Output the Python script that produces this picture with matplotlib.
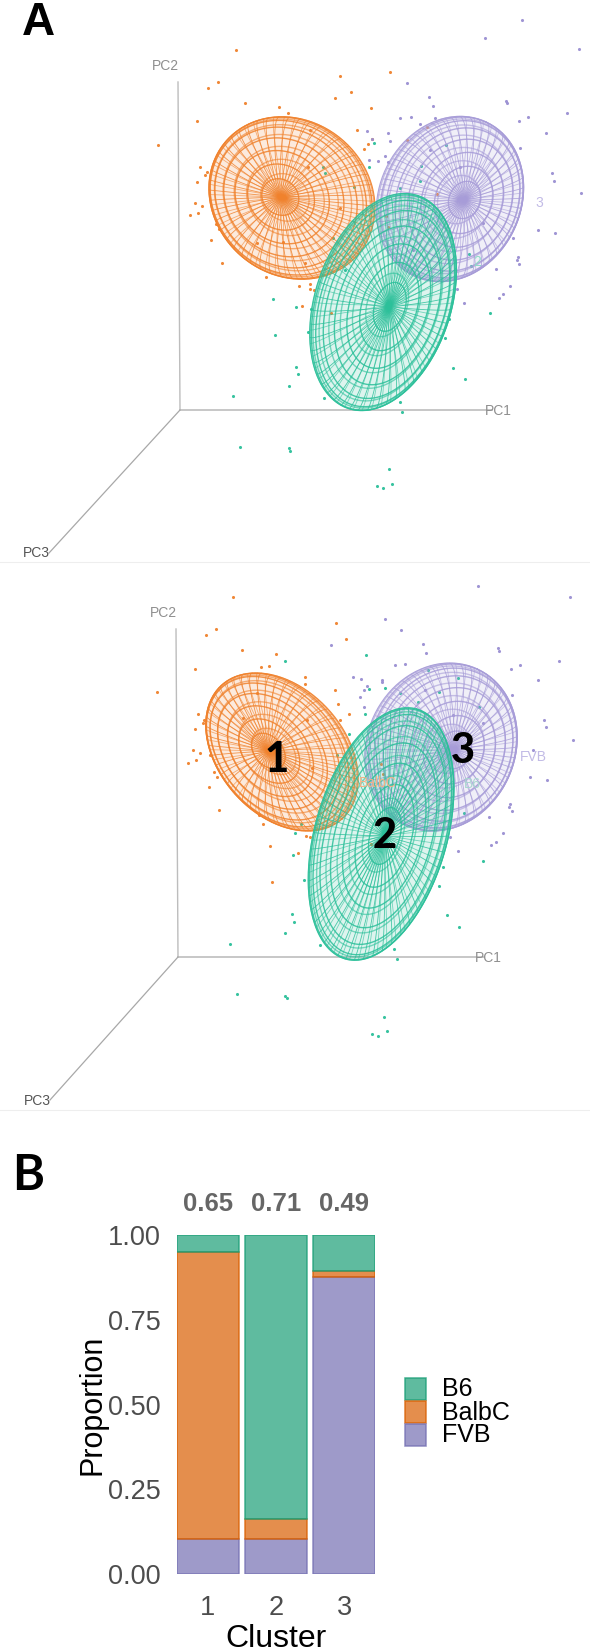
import numpy as np
import matplotlib
matplotlib.use("Agg")
import matplotlib.pyplot as plt
from matplotlib.collections import LineCollection
from matplotlib.patches import Polygon, Rectangle

W, H = 590, 1651
ORANGE = "#F0822D"
GREEN = "#2CC09A"
PURPLE = "#A79CD8"

top_orange = [(318,0),(233,114),(265,96),(345,158),(202,214),(85,286),(630,77),(781,67),(662,126),(615,145),(722,174),(448,170),(475,190),(682,241),(726,268),(715,282),(703,298),(210,350),(230,367),(226,375),(201,395),(194,460),(217,468),(204,490),(181,496),(258,522),(268,537),(243,569),(275,640),(407,681),(507,708),(540,702),(540,716),(553,720),(516,768),(604,790),(767,498),(775,530),(890,230),(830,270),(920,432),(540,240),(535,350),(630,475),(380,580),(460,575),(525,640)]
top_purple = [(1176,-90),(1065,-36),(1347,-3),(831,99),(896,142),(908,169),(1127,152),(1130,160),(1312,190),(1193,202),(1166,214),(1249,250),(811,205),(843,201),(915,203),(870,222),(710,243),(773,250),(725,268),(780,273),(718,331),(745,333),(765,319),(775,335),(1170,295),(1267,369),(1273,392),(1354,430),(1225,540),(1276,549),(1150,565),(1163,622),(1160,630),(1167,642),(1097,657),(1141,707),(1118,733),(1106,743),(981,718),(1003,760),(900,300),(990,350),(1060,520),(850,600)]
top_green = [(578,352),(586,369),(733,278),(718,350),(810,415),(948,285),(873,348),(870,393),(672,410),(430,746),(499,772),(544,778),(435,855),(533,847),(1079,790),(957,808),(946,865),(497,952),(504,973),(476,1008),(308,1039),(583,1043),(969,954),(1006,988),(809,1056),(816,1085),(1018,613),(1022,648),(610,565),(645,660),(330,1191),(477,1194),(480,1203),(777,1257),(741,1308),(759,1314),(786,1302)]

bot_orange = [(310,50),(227,166),(258,147),(337,211),(437,221),(195,266),(394,260),(416,259),(80,337),(526,291),(524,313),(617,129),(649,178),(615,331),(624,373),(656,401),(630,421),(204,402),(222,420),(219,428),(196,447),(188,511),(211,520),(198,541),(175,548),(241,525),(252,575),(261,590),(237,620),(268,690),(386,705),(398,732),(528,768),(540,770),(421,799),(505,820),(425,907),(752,552),(760,582),(722,792),(340,415),(380,340),(530,420),(545,565)]
bot_purple = [(1045,17),(1321,50),(766,118),(814,151),(878,193),(889,220),(602,196),(1105,203),(1108,212),(1287,243),(1170,254),(1143,266),(1225,300),(795,256),(826,253),(668,292),(694,296),(757,300),(757,306),(710,318),(703,330),(689,351),(703,382),(1147,345),(1243,420),(1248,442),(1328,481),(1210,510),(1201,592),(1251,600),(1140,672),(1137,680),(1145,693),(1076,710),(1119,758),(1097,785),(1084,796),(984,813),(961,770),(885,330),(970,405),(1060,430)]
bot_green = [(464,243),(707,226),(718,328),(764,325),(810,340),(704,402),(656,461),(620,525),(514,731),(495,760),(488,824),(521,899),(1059,843),(939,860),(927,917),(486,1003),(492,1026),(465,1060),(301,1091),(570,1095),(950,1006),(987,1041),(793,1108),(800,1137),(1002,700),(895,270),(985,295),(928,337),(865,365),(1047,380),(321,1242),(465,1248),(471,1254),(762,1311),(726,1362),(744,1368),(771,1353)]

# ellipsoid projections: centre x, y, long and short semi-axis, tilt, pole offset x, y
top_ellipsoids = [(292, 198, 87, 77, 40, -12, -1, ORANGE),
                  (450, 199, 85, 71, -65, 15, 1, PURPLE),
                  (383, 302, 112, 68, -72, 7, 5, GREEN)]
bot_ellipsoids = [(282, 752, 90, 63, 48, -14, -1, ORANGE),
                  (441, 747, 86, 74, -65, 14, 3, PURPLE),
                  (381, 834, 130, 66, -74, 4, 2, GREEN)]

clusters = ["1", "2", "3"]
fvb = [0.102, 0.102, 0.875]
balbc = [0.848, 0.060, 0.020]
b6 = [0.050, 0.838, 0.105]
scores = ["0.65", "0.71", "0.49"]
yticks = [0, 0.25, 0.5, 0.75, 1.0]
ytick_labels = ["0.00", "0.25", "0.50", "0.75", "1.00"]
legend_names = ["B6", "BalbC", "FVB"]
ring_angles = [13, 24, 35, 47, 60, 72, 83]

fig = plt.figure(figsize=(W / 100, H / 100), dpi=100, facecolor="white")
ax = fig.add_axes([0, 0, 1, 1])
ax.set_xlim(0, W)
ax.set_ylim(H, 0)
ax.axis("off")


def wire(c):
    cx, cy, a, b, th, ox, oy, col = c
    t = np.radians(th)
    M = np.array([[np.cos(t), -np.sin(t)], [np.sin(t), np.cos(t)]]) @ np.diag([a, b])
    s = np.linspace(0, 2 * np.pi, 181)
    outline = np.c_[np.cos(s), np.sin(s)] @ M.T + [cx, cy]
    ax.add_patch(Polygon(outline, closed=True, fc=col, ec="none", alpha=0.16, zorder=3))
    pp = np.linspace(0, np.pi / 2, 31)
    # the near and the far shell of the mesh, with slightly different poles
    for f, shift, alpha in ((1.0, 0, 0.85), (0.62, 4, 0.6)):
        q = np.linalg.solve(M, [f * ox, f * oy])
        e3 = np.array([q[0], q[1], np.sqrt(max(0.0, 1 - q @ q))])
        e1 = np.cross(e3, [0, 1, 0])
        e1 /= np.linalg.norm(e1)
        e2 = np.cross(e3, e1)

        def proj(phi, lam):
            u = (np.sin(phi)[..., None] * np.cos(lam)[..., None] * e1
                 + np.sin(phi)[..., None] * np.sin(lam)[..., None] * e2
                 + np.cos(phi)[..., None] * e3)
            return u[..., :2] @ M.T + [cx, cy]

        rings = [proj(np.full_like(s, p), s) for p in np.radians(np.array(ring_angles) + shift)]
        ax.add_collection(LineCollection(rings, colors=col, linewidths=1.0, alpha=alpha, zorder=3))
        mer = [proj(pp, np.full_like(pp, l)) for l in np.radians(np.arange(shift, 360 + shift, 7.5))]
        ax.add_collection(LineCollection(mer, colors=col, linewidths=0.6, alpha=alpha, zorder=3))
    ax.plot(outline[:, 0], outline[:, 1], color=col, lw=0.8, alpha=0.9, zorder=3)


def scatter(pts, ox, oy, col):
    p = np.array(pts, float)
    ax.scatter(ox + p[:, 0] / 3, oy + p[:, 1] / 3, s=5, color=col, lw=0, zorder=2.5, alpha=0.95)


def axes3d(o, tipy, tipx, ex, p3, lab1, lab2, lab3):
    ax.plot([tipx, o[0]], [tipy, o[1]], color="#bdbdbd", lw=1.0, zorder=1)
    ax.plot([o[0], ex], [o[1], o[1]], color="#bdbdbd", lw=1.2, zorder=1)
    ax.plot([o[0], p3[0]], [o[1], p3[1]], color="#a8a8a8", lw=0.9, zorder=1)
    fs = 10
    ax.text(*lab2, "PC2", color="#8f8f8f", fontsize=fs, family="Liberation Sans", ha="center", va="center")
    ax.text(*lab1, "PC1", color="#8f8f8f", fontsize=fs, family="Liberation Sans", ha="center", va="center")
    ax.text(*lab3, "PC3", color="#555555", fontsize=fs, family="Liberation Sans", ha="center", va="center")


axes3d((180, 410), 82, 178, 492, (49, 553), (498, 411), (165, 66), (36, 553))
axes3d((178, 957), 629, 176, 484, (50, 1100), (488, 958), (163, 613), (37, 1101))

scatter(top_orange, 130, 50, ORANGE)
scatter(top_purple, 130, 50, "#9A8FD2")
scatter(top_green, 130, 50, GREEN)
scatter(bot_orange, 130, 580, ORANGE)
scatter(bot_purple, 130, 580, "#9A8FD2")
scatter(bot_green, 130, 580, GREEN)

for c in top_ellipsoids + bot_ellipsoids:
    wire(c)

ls = dict(fontsize=10, family="Liberation Sans", ha="center", va="center", zorder=4)
ax.text(539, 203, "3", color="#C2BBE6", **ls)
ax.text(477, 262, "2", color="#8FDCC6", **ls)
ax.text(533, 757, "FVB", color="#C2BBE6", **ls)
ax.text(472, 784, "B6", color="#A9D5D0", **ls)
ax.text(378, 783, "BalbC", color="#F3B286", **ls)

ax.plot([0, W], [562, 562], color="#eeeeee", lw=0.8, zorder=0)
ax.plot([0, W], [1110, 1110], color="#eeeeee", lw=0.8, zorder=0)

nb = dict(fontsize=30, family="Lato", weight="black", color="black", ha="center", va="center", zorder=6)
ax.text(277, 760, "1", **nb)
ax.text(385, 836, "2", **nb)
ax.text(463, 751, "3", **nb)
ax.text(38, 35, "A", fontsize=33, family="Liberation Sans", weight="bold", color="black", ha="center", va="baseline")
ax.text(28, 1175, "B", fontsize=35, family="Lato", weight="bold", color="black", ha="center", va="center")

# Panel B
L, R, T, B = 177, 375, 1235, 1574
bx = fig.add_axes([L / W, 1 - B / H, (R - L) / W, (B - T) / H])
bx.patch.set_alpha(0)
x = np.arange(1, 4)
bw = 0.91
bx.set_xlim(1 - bw / 2, 3 + bw / 2)
bx.set_ylim(0, 1)
FILL = {"B6": (27, 158, 119), "BalbC": (217, 95, 2), "FVB": (117, 112, 179)}


def style(name):
    rgb = np.array(FILL[name]) / 255
    return dict(facecolor=(*rgb, 0.7), edgecolor=(*rgb, 0.8), linewidth=1.1)


bx.bar(x, fvb, bw, **style("FVB"))
bx.bar(x, balbc, bw, bottom=fvb, **style("BalbC"))
bx.bar(x, b6, bw, bottom=np.add(fvb, balbc), **style("B6"))
for s in bx.spines.values():
    s.set_visible(False)
bx.set_xticks(x, clusters)
bx.set_yticks(yticks, ytick_labels)
bx.tick_params(length=0, labelsize=19.5, labelcolor="#4D4D4D")
for t in bx.get_xticklabels() + bx.get_yticklabels():
    t.set_family("Liberation Sans")
bx.tick_params(axis="x", pad=15)
bx.tick_params(axis="y", pad=12)
bx.set_xlabel("Cluster", fontsize=23, family="Liberation Sans", labelpad=2)
bx.set_ylabel("Proportion", fontsize=22, family="Liberation Sans", labelpad=0)
for xi, sc in zip(x, scores):
    bx.text(xi, 1.09, sc, ha="center", va="center", fontsize=18.5, weight="bold",
            color="#666666", family="Liberation Sans")

# legend
for i, name in enumerate(legend_names):
    y0 = 1378 + i * 23
    ax.add_patch(Rectangle((405, y0 + 0.5), 21, 22, **style(name)))
    ax.text(442, y0 + 11.5, name, fontsize=18, family="Liberation Sans", ha="left", va="center", color="black")

fig.savefig("out.png", dpi=100, facecolor="white")
